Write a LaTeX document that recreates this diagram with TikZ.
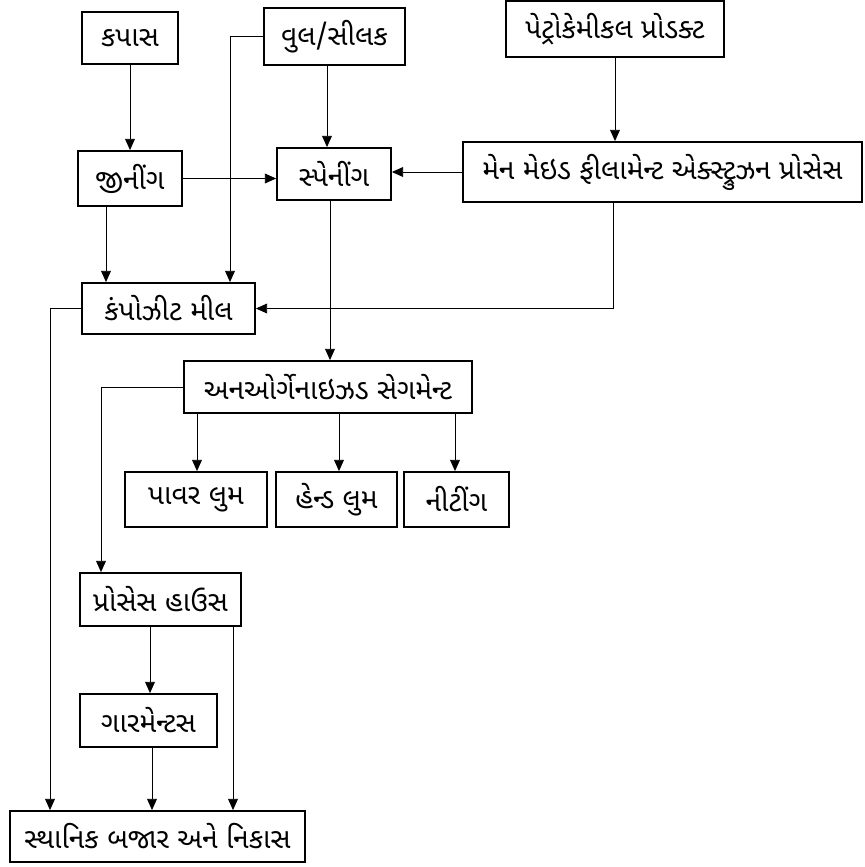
\documentclass[tikz,border=0pt]{standalone}
\usepackage{fontspec}
\newfontfamily\gujfont[Script=Gujarati]{Noto Sans Gujarati UI}
\usetikzlibrary{arrows.meta}

\begin{document}
\begin{tikzpicture}[x=0.025cm, y=-0.025cm,
	flow node/.style={rectangle,draw,line width=1.3pt,inner sep=0pt,
		font=\gujfont\fontsize{20}{24}\selectfont},
	box size/.style 2 args={minimum width=#1*0.025cm,minimum height=#2*0.025cm},
	flow/.style={line width=0.6pt,-{Triangle[length=8pt,width=7pt]}}]
	\useasboundingbox (0,0) rectangle (864,867);
	
	\node[flow node,box size={96}{52}] (kapas) at (130,38) {કપાસ};
	\node[flow node,box size={141}{57}] (wool) at (334.5,36.5) {વુલ/સીલક};
	\node[flow node,box size={218}{56}] (petro) at (615,29) {પેટ્રોકેમીકલ પ્રોડક્ટ};
	\node[flow node,box size={104}{55}] (gin) at (130,178.5) {જીનીંગ};
	\node[flow node,box size={114}{52}] (spin) at (334,174) {સ્પેનીંગ};
	\node[flow node,box size={399}{60}] (mmf) at (662.5,172) {મેન મેઇડ ફીલામેન્ટ એક્સ્ટ્રુઝન પ્રોસેસ};
	\node[flow node,box size={173}{51}] (comp) at (168.5,308.5) {કંપોઝીટ મીલ};
	\node[flow node,box size={288}{52}] (unorg) at (328,387) {અનઓર્ગેનાઇઝડ સેગમેન્ટ};
	\node[flow node,box size={142}{55}] (power) at (196,499.5) {પાવર લુમ};
	\node[flow node,box size={121}{55}] (hand) at (336.5,499.5) {હેન્ડ લુમ};
	\node[flow node,box size={105}{55}] (knit) at (456.5,499.5) {નીટીંગ};
	\node[flow node,box size={161}{53}] (proc) at (160.5,599.5) {પ્રોસેસ હાઉસ};
	\node[flow node,box size={137}{53}] (garm) at (148.5,720.5) {ગારમેન્ટસ};
	\node[flow node,box size={295}{51}] (market) at (157.5,836.5) {સ્થાનિક બજાર અને નિકાસ};
	
	% raw material side
	\draw[flow] (kapas.south) -- (kapas.south |- gin.north);
	\draw[flow] (wool.south -| 327,0) -- (spin.north -| 327,0);
	\draw[flow] (wool.west) -| (comp.north -| 230,0);
	\draw[flow] (petro.south) -- (petro.south |- mmf.north);
	\draw[flow] (mmf.west) -- (mmf.west -| spin.east);
	\draw[flow] (gin.east) -- (gin.east -| spin.west);
	\draw[flow] (gin.south -| 106,0) -- (comp.north -| 106,0);
	\draw[flow] (mmf.south -| 613,0) |- (comp.east);
	
	% weaving
	\draw[flow] (spin.south -| 330,0) -- (unorg.north -| 330,0);
	\draw[flow] (unorg.south -| 197,0) -- (power.north -| 197,0);
	\draw[flow] (unorg.south -| 339,0) -- (hand.north -| 339,0);
	\draw[flow] (unorg.south -| 455,0) -- (knit.north -| 455,0);
	
	% to market
	\draw[flow] (comp.west) -| (market.north -| 50,0);
	\draw[flow] (unorg.west) -| (proc.north -| 101,0);
	\draw[flow] (proc.south -| 150,0) -- (garm.north -| 150,0);
	\draw[flow] (proc.south -| 233,0) -- (market.north -| 233,0);
	\draw[flow] (garm.south -| 152,0) -- (market.north -| 152,0);
\end{tikzpicture}
\end{document}
